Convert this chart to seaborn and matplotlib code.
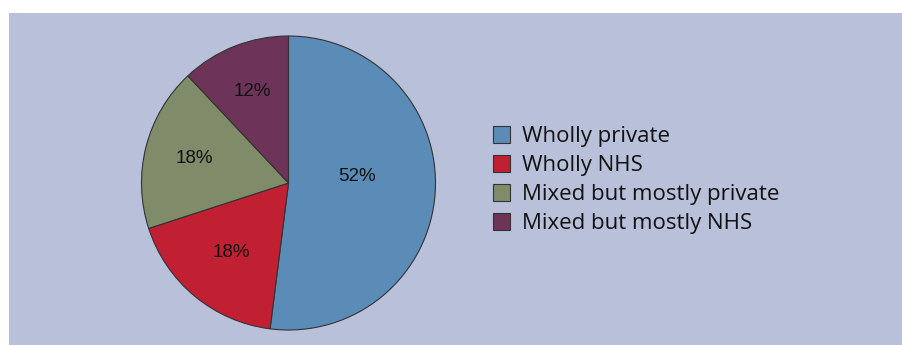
import numpy as np
import matplotlib
matplotlib.use("Agg")
import matplotlib.pyplot as plt
from matplotlib.patches import Rectangle
import seaborn as sns

categories = ["Wholly private", "Wholly NHS", "Mixed but mostly private", "Mixed but mostly NHS"]
values = [52, 18, 18, 12]
colors = ["#5A8CB7", "#C11F32", "#7F8B69", "#6E3358"]

sns.set_style("white")
plt.rcParams['font.family'] = ['Liberation Sans', 'DejaVu Sans']

W, H = 903, 345
fig = plt.figure(figsize=(W / 100, H / 100), dpi=100, facecolor="white")

# background panel
fig.patches.append(Rectangle((9 / W, 0), 1 - 9 / W, 1 - 13 / H, transform=fig.transFigure,
                             facecolor="#B9C1DA", edgecolor="none", zorder=-5))

cx, cy, r = 288.5, 183, 147
ax = fig.add_axes([(cx - r) / W, (H - cy - r) / H, 2 * r / W, 2 * r / H])
ax.set_facecolor("none")
ax.set_zorder(2)

wedges, texts, autotexts = ax.pie(
    values, colors=colors, startangle=90, counterclock=False,
    autopct=lambda p: f"{p:.0f}%", pctdistance=0.62,
    wedgeprops=dict(edgecolor="#333333", linewidth=0.8),
    textprops=dict(fontsize=13.5, color="#111111"))

# label placement (Excel "best fit"-like)
label_r = [0.47, 0.61, 0.66, 0.67]
label_shift = [9.4, 0, 0, 0]
for w, t, lr, sh in zip(wedges, autotexts, label_r, label_shift):
    ang = np.deg2rad((w.theta1 + w.theta2) / 2 + sh)
    t.set_position((lr * np.cos(ang), lr * np.sin(ang)))

ax.set_xlim(-1, 1)
ax.set_ylim(-1, 1)
ax.set_aspect("auto")
ax.axis("off")

handles = [Rectangle((0, 0), 1, 1, facecolor=c, edgecolor="#333333", linewidth=0.8) for c in colors]
leg = fig.legend(handles, categories, loc="center left",
                 bbox_to_anchor=(493 / W, 1 - 180 / H),
                 frameon=False,
                 prop=dict(family="Open Sans", size=16),
                 handlelength=0.77, handleheight=0.77, handletextpad=0.55,
                 labelspacing=0.36, borderaxespad=0, borderpad=0)
leg.set_zorder(3)
for t in leg.get_texts():
    t.set_color("#111111")

fig.savefig("out.png", dpi=100, facecolor="white")
